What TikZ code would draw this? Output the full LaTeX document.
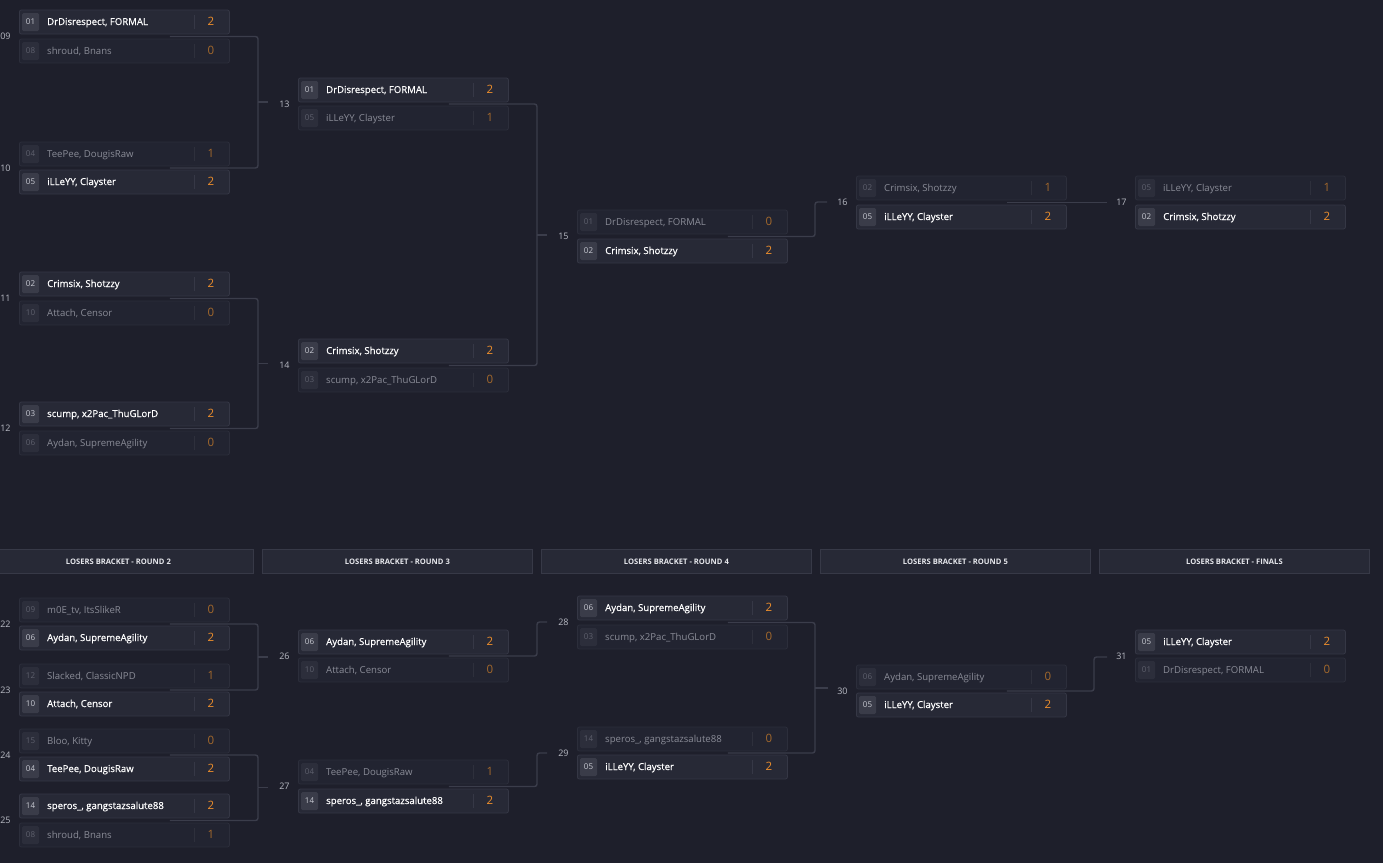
\documentclass[tikz,border=0pt]{standalone}
\usepackage{fontspec}
\setmainfont{Open Sans}
\newfontfamily\semibold[FakeBold=0.5]{Open Sans}
\usetikzlibrary{calc,backgrounds}
\definecolor{bg}{HTML}{1E1F2B}
\definecolor{rowfw}{HTML}{272936}
\definecolor{rowbw}{HTML}{353745}
\definecolor{rowfl}{HTML}{222431}
\definecolor{rowbl}{HTML}{2C2E3B}
\definecolor{seedfw}{HTML}{3A3C49}
\definecolor{seedfl}{HTML}{2C2E3B}
\definecolor{seedtw}{HTML}{C9CBD3}
\definecolor{seedtl}{HTML}{5E606D}
\definecolor{namel}{HTML}{8A8C97}
\definecolor{scw}{HTML}{F0902C}
\definecolor{scl}{HTML}{A4692C}
\definecolor{divcw}{HTML}{363846}
\definecolor{divcl}{HTML}{2E303C}
\definecolor{labc}{HTML}{B9BBC4}
\definecolor{connc}{HTML}{3B3D4B}
\definecolor{hdrf}{HTML}{272936}
\definecolor{hdrb}{HTML}{373947}
\definecolor{hdrt}{HTML}{E6E7EC}
\tikzset{
  roww/.style={draw=rowbw, fill=rowfw, rounded corners=2pt, minimum width=210pt, minimum height=24pt, inner sep=0pt, line width=0.8pt},
  rowl/.style={draw=rowbl, fill=rowfl, rounded corners=2pt, minimum width=210pt, minimum height=24pt, inner sep=0pt, line width=0.8pt},
  seedw/.style={fill=seedfw, rounded corners=1.5pt, minimum width=17pt, minimum height=18pt, inner sep=0pt, text height=5.2pt, text depth=0pt, font=\fontsize{8}{8}\selectfont, text=seedtw},
  seedl/.style={fill=seedfl, rounded corners=1.5pt, minimum width=17pt, minimum height=18pt, inner sep=0pt, text height=5.2pt, text depth=0pt, font=\fontsize{8}{8}\selectfont, text=seedtl},
  namew/.style={inner sep=0pt, text height=6pt, text depth=0pt, font=\semibold\fontsize{9.6}{10}\selectfont, text=white},
  namel/.style={inner sep=0pt, text height=6pt, text depth=0pt, font=\fontsize{9.6}{10}\selectfont, text=namel},
  scorew/.style={inner sep=0pt, text height=7.2pt, text depth=0pt, font=\fontsize{11.5}{12}\selectfont, text=scw},
  scorel/.style={inner sep=0pt, text height=7.2pt, text depth=0pt, font=\fontsize{11.5}{12}\selectfont, text=scl},
  divw/.style={draw=divcw, line width=0.8pt},
  divl/.style={draw=divcl, line width=0.8pt},
  mlabel/.style={anchor=east, inner sep=0pt, text height=6.4pt, text depth=0pt, font=\fontsize{9}{9}\selectfont, text=labc},
  conn/.style={draw=connc, line width=1.4pt, rounded corners=2.5pt},
  hdr/.style={draw=hdrb, fill=hdrf, line width=0.8pt, minimum width=270pt, minimum height=24pt, inner sep=0pt, anchor=north west, text height=5.2pt, text depth=0pt, font=\bfseries\fontsize{7.6}{8}\selectfont, text=hdrt},
}
% #1 name, #2 x, #3 y centre, #4 seed, #5 team, #6 score, #7 w/l
\newcommand\trow[7]{%
  \node[row#7, anchor=west] (#1) at (#2,#3) {};
  \node[seed#7] (#1s) at ($(#1.west)+(11.5,0)$) {#4};
  \node[name#7, anchor=west] (#1n) at ($(#1.west)+(28,0)$) {#5};
  \draw[div#7] ($(#1.north west)+(175,5)$) -- ($(#1.south west)+(175,-5)$);
  \node[score#7] (#1c) at ($(#1.west)+(192,0)$) {#6};
}
% #1 match id
\newcommand\mref[1]{%
  \coordinate (r#1) at ($(m#1a.south east)!0.5!(m#1b.north east)$);
  \coordinate (s#1) at ($(r#1)+(-60,0)$);
  \node[mlabel] (l#1) at ($(r#1)+(-219,0)$) {#1};
}
\begin{document}
\begin{tikzpicture}[x=1pt,y=-1pt]
\useasboundingbox (0,0) rectangle (1383,862);
\begin{scope}[on background layer]
\fill[bg] (-30,-10) rectangle (1400,880);
\end{scope}

% ---------- upper bracket ----------
\trow{m09a}{19}{22}{01}{DrDisrespect, FORMAL}{2}{w}
\trow{m09b}{19}{51}{08}{shroud, Bnans}{0}{l}
\trow{m10a}{19}{154}{04}{TeePee, DougisRaw}{1}{l}
\trow{m10b}{19}{182}{05}{iLLeYY, Clayster}{2}{w}
\trow{m11a}{19}{284}{02}{Crimsix, Shotzzy}{2}{w}
\trow{m11b}{19}{313}{10}{Attach, Censor}{0}{l}
\trow{m12a}{19}{414}{03}{scump, x2Pac\_ThuGLorD}{2}{w}
\trow{m12b}{19}{443}{06}{Aydan, SupremeAgility}{0}{l}

\trow{m13a}{298}{90}{01}{DrDisrespect, FORMAL}{2}{w}
\trow{m13b}{298}{118}{05}{iLLeYY, Clayster}{1}{l}
\trow{m14a}{298}{351}{02}{Crimsix, Shotzzy}{2}{w}
\trow{m14b}{298}{380}{03}{scump, x2Pac\_ThuGLorD}{0}{l}

\trow{m15a}{577}{222}{01}{DrDisrespect, FORMAL}{0}{l}
\trow{m15b}{577}{251}{02}{Crimsix, Shotzzy}{2}{w}

\trow{m16a}{856}{188}{02}{Crimsix, Shotzzy}{1}{l}
\trow{m16b}{856}{217}{05}{iLLeYY, Clayster}{2}{w}

\trow{m17a}{1135}{188}{05}{iLLeYY, Clayster}{1}{l}
\trow{m17b}{1135}{217}{02}{Crimsix, Shotzzy}{2}{w}

% ---------- lower bracket ----------
\node[hdr] (h2) at (-17,549) {LOSERS BRACKET - ROUND 2};
\node[hdr] (h3) at (262,549) {LOSERS BRACKET - ROUND 3};
\node[hdr] (h4) at (541,549) {LOSERS BRACKET - ROUND 4};
\node[hdr] (h5) at (820,549) {LOSERS BRACKET - ROUND 5};
\node[hdr] (h6) at (1099,549) {LOSERS BRACKET - FINALS};

\trow{m22a}{19}{610}{09}{m0E\_tv, ItsSlikeR}{0}{l}
\trow{m22b}{19}{638}{06}{Aydan, SupremeAgility}{2}{w}
\trow{m23a}{19}{676}{12}{Slacked, ClassicNPD}{1}{l}
\trow{m23b}{19}{704}{10}{Attach, Censor}{2}{w}
\trow{m24a}{19}{741}{15}{Bloo, Kitty}{0}{l}
\trow{m24b}{19}{769}{04}{TeePee, DougisRaw}{2}{w}
\trow{m25a}{19}{806}{14}{speros\_, gangstazsalute88}{2}{w}
\trow{m25b}{19}{835}{08}{shroud, Bnans}{1}{l}

\trow{m26a}{298}{642}{06}{Aydan, SupremeAgility}{2}{w}
\trow{m26b}{298}{670}{10}{Attach, Censor}{0}{l}
\trow{m27a}{298}{772}{04}{TeePee, DougisRaw}{1}{l}
\trow{m27b}{298}{801}{14}{speros\_, gangstazsalute88}{2}{w}

\trow{m28a}{577}{608}{06}{Aydan, SupremeAgility}{2}{w}
\trow{m28b}{577}{637}{03}{scump, x2Pac\_ThuGLorD}{0}{l}
\trow{m29a}{577}{739}{14}{speros\_, gangstazsalute88}{0}{l}
\trow{m29b}{577}{767}{05}{iLLeYY, Clayster}{2}{w}

\trow{m30a}{856}{677}{06}{Aydan, SupremeAgility}{0}{l}
\trow{m30b}{856}{705}{05}{iLLeYY, Clayster}{2}{w}

\trow{m31a}{1135}{642}{05}{iLLeYY, Clayster}{2}{w}
\trow{m31b}{1135}{670}{01}{DrDisrespect, FORMAL}{0}{l}

% match references
\foreach \m in {09,10,11,12,13,14,15,16,17,22,23,24,25,26,27,28,29,30,31}{\mref{\m}}

% junction coordinates
\coordinate (j13) at (258,102);   \coordinate (t13) at (268,102);
\coordinate (j14) at (258,363.5); \coordinate (t14) at (268,363.5);
\coordinate (j15) at (537,235);   \coordinate (t15) at (547,235);
\coordinate (j16) at (815,202);   \coordinate (t16) at (827,202);
\coordinate (t17) at (1107,202.5);
\coordinate (j26) at (258,657);   \coordinate (t26) at (268,657);
\coordinate (j27) at (258,787.5); \coordinate (t27) at (268,787.5);
\coordinate (j28) at (537,622);   \coordinate (t28) at (547,622);
\coordinate (j29) at (537,753);   \coordinate (t29) at (547,753);
\coordinate (j30) at (815,688);   \coordinate (t30) at (828,688);
\coordinate (j31) at (1094,657);  \coordinate (t31) at (1107,657);

\begin{scope}[on background layer]
\draw[conn] (s09) -| (j13); \draw[conn] (s10) -| (j13); \draw[conn] (j13) -- (t13);
\draw[conn] (s11) -| (j14); \draw[conn] (s12) -| (j14); \draw[conn] (j14) -- (t14);
\draw[conn] (s13) -| (j15); \draw[conn] (s14) -| (j15); \draw[conn] (j15) -- (t15);
\draw[conn] (s15) -| (j16) -- (t16);
\draw[conn] (s16) -- (t17);
\draw[conn] (s22) -| (j26); \draw[conn] (s23) -| (j26); \draw[conn] (j26) -- (t26);
\draw[conn] (s24) -| (j27); \draw[conn] (s25) -| (j27); \draw[conn] (j27) -- (t27);
\draw[conn] (s26) -| (j28) -- (t28);
\draw[conn] (s27) -| (j29) -- (t29);
\draw[conn] (s28) -| (j30); \draw[conn] (s29) -| (j30); \draw[conn] (j30) -- (t30);
\draw[conn] (s30) -| (j31) -- (t31);
\end{scope}
\end{tikzpicture}
\end{document}
